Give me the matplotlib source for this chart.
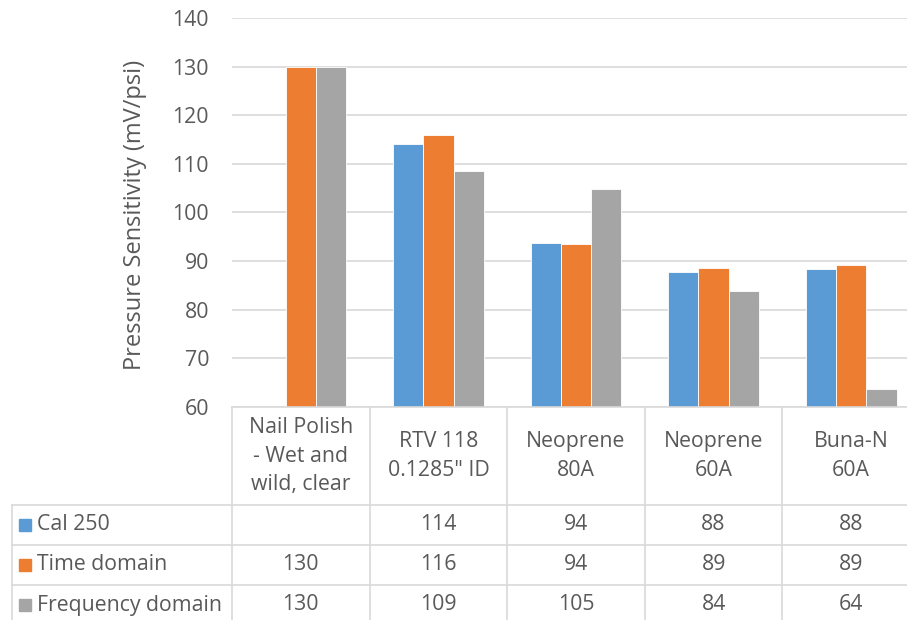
import numpy as np
import matplotlib
matplotlib.use("Agg")
import matplotlib.pyplot as plt
from matplotlib.lines import Line2D
from matplotlib.patches import Rectangle
from matplotlib.transforms import blended_transform_factory

categories = ["Nail Polish\n- Wet and\nwild, clear", "RTV 118\n0.1285\" ID",
              "Neoprene\n80A", "Neoprene\n60A", "Buna-N\n60A"]
series_names = ["Cal 250", "Time domain", "Frequency domain"]
cal_250 = [np.nan, 114.1, 93.8, 87.7, 88.3]
time_domain = [130.0, 116.0, 93.6, 88.6, 89.3]
freq_domain = [130.0, 108.6, 104.9, 83.8, 63.6]
colors = ["#5B9BD5", "#ED7D31", "#A5A5A5"]

W, H = 907, 620
fig = plt.figure(figsize=(W / 100, H / 100), dpi=100)
grid_c = "#D9D9D9"
text_c = "#595959"
font = "Open Sans"
fs = 15.3

# plot area in pixels (top-left origin); right edge runs past the image
x0, x1, ytop, ybot = 232, 920, 18, 407
ax = fig.add_axes([x0 / W, 1 - ybot / H, (x1 - x0) / W, (ybot - ytop) / H])

x = np.arange(len(categories))
bw = 0.22
for k, vals in enumerate([cal_250, time_domain, freq_domain]):
    ax.bar(x + (k - 1) * bw, np.array(vals) - 60, bottom=60, width=bw,
           color=colors[k], edgecolor="white", linewidth=0.6, zorder=3)

ax.set_xlim(-0.5, len(categories) - 0.5)
ax.set_ylim(60, 140)
ax.set_yticks(np.arange(60, 141, 10))
ax.yaxis.grid(True, color=grid_c, linewidth=1.2, zorder=0)
ax.set_xticks([])
for s in ax.spines.values():
    s.set_visible(False)
ax.tick_params(axis="y", length=0, pad=16.5, labelsize=fs, labelcolor=text_c)
for lab in ax.get_yticklabels():
    lab.set_fontfamily(font)
fig.text(135 / W, 1 - 215 / H, "Pressure Sensitivity (mV/psi)", rotation=90,
         ha="center", va="center", fontsize=17, color=text_c, fontfamily=font)


def hline(xa, xb, yp):
    fig.add_artist(Line2D([xa / W, xb / W], [1 - yp / H] * 2,
                          color=grid_c, linewidth=1.2))


def vline(xp, ya, yb):
    fig.add_artist(Line2D([xp / W] * 2, [1 - ya / H, 1 - yb / H],
                          color=grid_c, linewidth=1.2))


# data table below the plot
row_tops = [505, 545, 585]
row_h = 40
hline(x0, W, ybot)
for yp in row_tops:
    hline(12, W, yp)
vline(12, 505, H)
col_w = (x1 - x0) / len(categories)
for i in range(len(categories)):
    vline(x0 + i * col_w, ybot, H)

trans = blended_transform_factory(ax.transData, fig.transFigure)
for i, cat in enumerate(categories):
    fig.text(i, 1 - 456 / H, cat, transform=trans, ha="center", va="center",
             fontsize=fs, color=text_c, fontfamily=font, linespacing=1.45)

for r, (name, vals) in enumerate(zip(series_names, [cal_250, time_domain, freq_domain])):
    yc = row_tops[r] + row_h / 2
    fig.add_artist(Rectangle((19 / W, 1 - (yc + 6) / H), 12 / W, 12 / H,
                             color=colors[r], transform=fig.transFigure))
    fig.text(37 / W, 1 - yc / H, name, ha="left", va="center",
             fontsize=fs, color=text_c, fontfamily=font)
    for i, v in enumerate(vals):
        if np.isnan(v):
            continue
        fig.text(i, 1 - yc / H, f"{round(v):d}", transform=trans,
                 ha="center", va="center", fontsize=fs, color=text_c,
                 fontfamily=font)

fig.savefig("out.png", dpi=100)
